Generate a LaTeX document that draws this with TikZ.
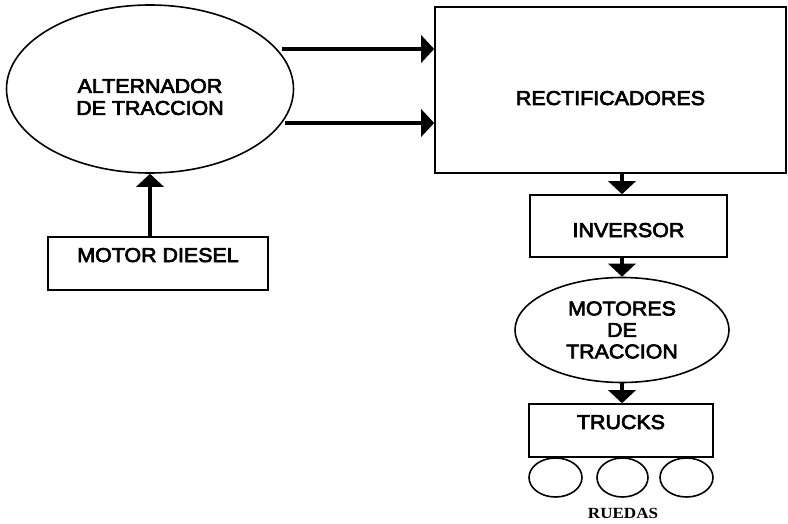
\documentclass[tikz,border=0pt]{standalone}
\usepackage{fontspec}
\setmainfont{Liberation Sans}[FakeStretch=1.07,FakeBold=3.5]
\newfontfamily\ruedafont{Liberation Serif}[FakeStretch=1.1]
\usetikzlibrary{shapes.geometric,arrows.meta,calc}

\begin{document}
\begin{tikzpicture}[x=1pt,y=-1pt,
  every node/.style={font=\fontsize{20}{21.5}\selectfont},
  blockbox/.style={draw,line width=1.6pt,rectangle,inner sep=0pt},
  ovalbox/.style={draw,line width=1.6pt,ellipse,inner sep=0pt,align=center},
  wheel/.style={draw,line width=1.6pt,ellipse,inner sep=0pt,minimum height=39pt},
  arr/.style={line width=3.6pt,-{Triangle[length=13pt,width=27pt]}}]
  \useasboundingbox (0,0) rectangle (788,524);

  % power generation
  \node[ovalbox,minimum width=287pt,minimum height=168pt,
        label={[yshift=-8pt,align=center,font=\fontsize{20}{22}\selectfont]center:{ALTERNADOR\\DE TRACCION}}]
        (alt) at (150,89) {};
  \node[blockbox,minimum width=220pt,minimum height=53pt,text height=14pt,text depth=17pt]
        (diesel) at (158,263.5) {MOTOR DIESEL};

  % conversion chain
  \node[blockbox,minimum width=351pt,minimum height=166pt,text height=30pt,text depth=0pt]
        (rect) at (610.5,90) {RECTIFICADORES};
  \node[blockbox,minimum width=197pt,minimum height=62pt,text height=22pt,text depth=0pt]
        (inv) at (628.5,226) {INVERSOR};
  \node[ovalbox,minimum width=214pt,minimum height=105pt]
        (mot) at (622,330) {MOTORES\\DE\\TRACCION};
  \node[blockbox,minimum width=184pt,minimum height=53pt,text height=14pt,text depth=17pt]
        (trucks) at (621,430.5) {TRUCKS};

  % wheels
  \node[wheel,minimum width=53pt] (w1) at (555.5,477.5) {};
  \node[wheel,minimum width=51pt] (w2) at (622.5,477.5) {};
  \node[wheel,minimum width=53pt] (w3) at (686.5,477.5) {};
  \node[font=\ruedafont\bfseries\fontsize{15.5}{15.5}\selectfont,inner sep=0pt]
        (ruedas) at (623,513) {RUEDAS};

  % connectors
  \coordinate (r1) at ([yshift=41pt]rect.west);
  \coordinate (r2) at ([yshift=-33pt]rect.west);
  \draw[arr] ($(alt.east |- r1)+(-12,0)$) -- (r1);
  \draw[arr] ($(alt.east |- r2)+(-9,0)$) -- (r2);
  \draw[arr] (alt.south |- diesel.north) -- (alt.south);
  \draw[arr] (rect.south -| mot.north) -- (inv.north -| mot.north);
  \draw[arr] (inv.south -| mot.north) -- (mot.north);
  \draw[arr] (mot.south) -- (mot.south |- trucks.north);
\end{tikzpicture}
\end{document}
